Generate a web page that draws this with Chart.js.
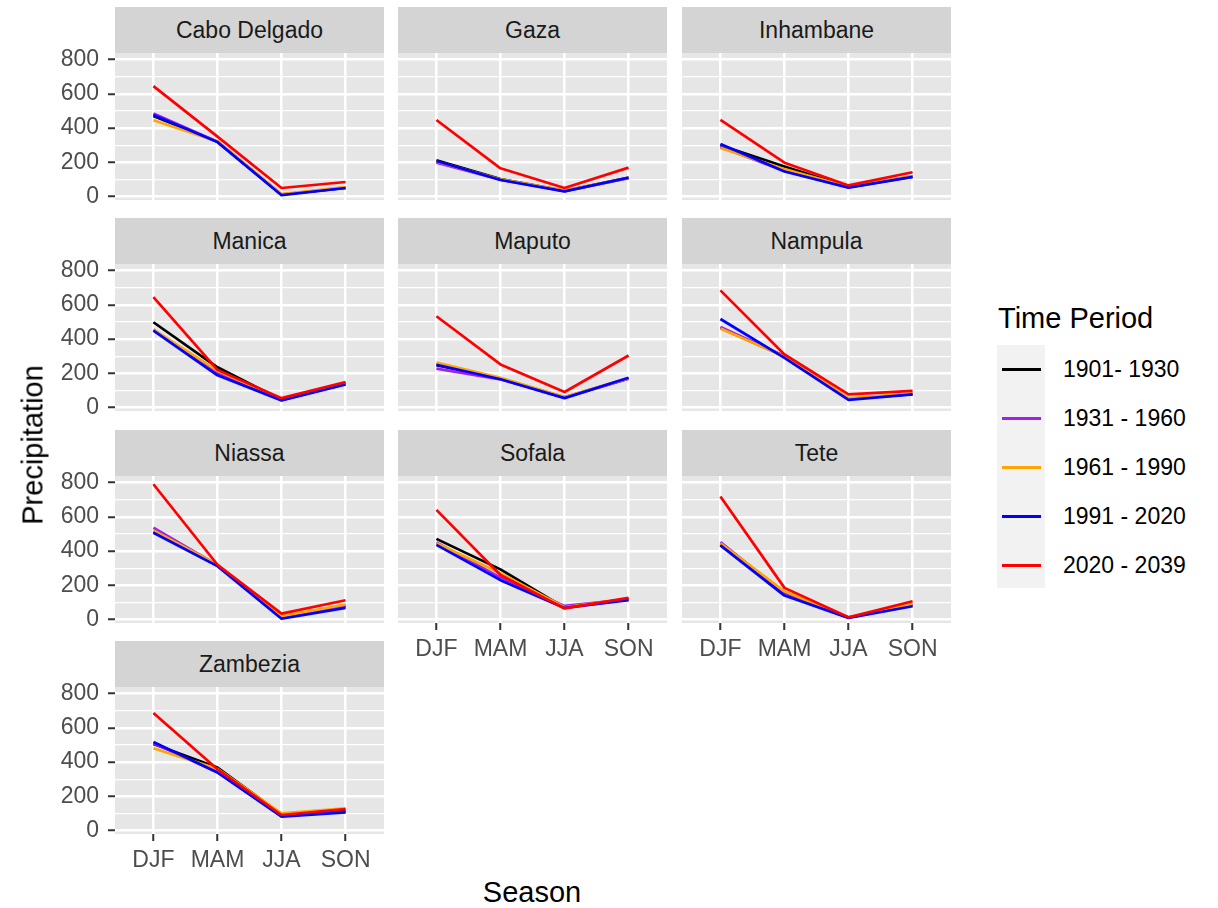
<!DOCTYPE html>
<html>
<head>
<meta charset="utf-8">
<script src="https://cdn.jsdelivr.net/npm/chart.js"></script>
<style>
    body { margin: 0; background: #fff; width: 1218px; height: 908px; position: relative; overflow: hidden;
           font-family: "Liberation Sans", Arial, sans-serif; }
    .strip { position: absolute; background: #D4D4D4; color: #1A1A1A; font-size: 23px; text-align: center; }
    canvas { position: absolute; }
    .title { position: absolute; color: #000; font-size: 29px; white-space: nowrap; }
    .legend-text { position: absolute; color: #000; font-size: 23px; white-space: nowrap; }
</style>
</head>
<body>
<script>
const seasons = ['DJF', 'MAM', 'JJA', 'SON'];
const periods = ['1901- 1930', '1931 - 1960', '1961 - 1990', '1991 - 2020', '2020 - 2039'];
const periodColors = ['#000000', '#A020F0', '#FFA500', '#0000FF', '#FF0000'];
const provinces = ['Cabo Delgado', 'Gaza', 'Inhambane', 'Manica', 'Maputo',
                   'Nampula', 'Niassa', 'Sofala', 'Tete', 'Zambezia'];
const yTicks = [0, 100, 200, 300, 400, 500, 600, 700, 800];

// one row per period, one value per season
const caboDelgado = [[470, 320, 12, 50], [485, 320, 12, 52], [445, 322, 14, 55], [476, 318, 8, 50], [645, 350, 50, 85]];
const gaza        = [[212, 102, 33, 110], [198, 98, 32, 108], [205, 100, 35, 110], [208, 97, 30, 111], [447, 165, 50, 169]];
const inhambane   = [[300, 175, 55, 118], [290, 150, 55, 115], [283, 160, 57, 120], [307, 146, 52, 115], [447, 198, 65, 142]];
const manica      = [[498, 235, 45, 140], [455, 200, 45, 138], [455, 215, 48, 140], [449, 188, 42, 135], [645, 220, 55, 149]];
const maputo      = [[248, 170, 60, 170], [227, 165, 58, 168], [262, 174, 62, 172], [250, 165, 55, 174], [533, 252, 91, 304]];
const nampula     = [[465, 300, 50, 78], [470, 300, 50, 80], [462, 298, 55, 82], [517, 290, 45, 77], [684, 310, 77, 97]];
const niassa      = [[515, 316, 15, 80], [536, 318, 15, 80], [520, 320, 20, 88], [507, 312, 5, 68], [790, 320, 35, 113]];
const sofala      = [[471, 293, 70, 120], [450, 245, 80, 118], [445, 270, 72, 122], [436, 230, 68, 113], [640, 260, 65, 127]];
const tete        = [[440, 150, 12, 85], [453, 150, 12, 85], [445, 165, 12, 90], [433, 140, 10, 78], [718, 185, 13, 107]];
const zambezia    = [[505, 368, 95, 115], [510, 340, 85, 110], [480, 360, 100, 130], [517, 339, 81, 106], [686, 358, 91, 126]];

const provinceValues = [caboDelgado, gaza, inhambane, manica, maputo, nampula, niassa, sofala, tete, zambezia];

const FONT = '"Liberation Sans", Arial, sans-serif';
const colLeft = [115, 398, 682];
const stripTop = [7, 218, 430, 641];
const panelW = 269, panelH = 147, stripH = 46;
const axisW = 70, axisH = 55, padTop = 15, padRight = 10;

const panelBg = {
    id: 'panelBg',
    beforeDraw(chart) {
        const { ctx, chartArea: a } = chart;
        ctx.save();
        ctx.fillStyle = '#E6E6E6';
        ctx.fillRect(a.left, a.top, a.right - a.left, a.bottom - a.top);
        ctx.restore();
    }
};

function addDiv(cls, text, css) {
    const d = document.createElement('div');
    d.className = cls;
    d.textContent = text;
    Object.assign(d.style, css);
    document.body.appendChild(d);
    return d;
}

// fixed axis sizes so every panel lines up, no extra label padding
function fixSize(s, w, h) {
    if (w !== null) s.width = w;
    if (h !== null) s.height = h;
    s.paddingTop = 0;
    s.paddingBottom = 0;
    s.paddingLeft = 0;
    s.paddingRight = 0;
}

provinces.forEach((name, p) => {
    const col = p % 3;
    const row = Math.floor(p / 3);
    const showY = col === 0;
    const showX = row === 3 || (row === 2 && col > 0);

    addDiv('strip', name, {
        left: colLeft[col] + 'px', top: stripTop[row] + 'px',
        width: panelW + 'px', height: stripH + 'px', lineHeight: stripH + 'px'
    });

    const canvas = document.createElement('canvas');
    canvas.width = axisW + panelW + padRight;
    canvas.height = padTop + panelH + axisH;
    canvas.style.left = (colLeft[col] - axisW) + 'px';
    canvas.style.top = (stripTop[row] + stripH - padTop) + 'px';
    document.body.appendChild(canvas);

    new Chart(canvas, {
        type: 'line',
        data: {
            datasets: periods.map((label, i) => ({
                label: label,
                data: provinceValues[p][i].map((v, j) => ({ x: j + 1, y: v })),
                borderColor: periodColors[i],
                borderWidth: 2.7,
                borderJoinStyle: 'round',
                pointRadius: 0,
                tension: 0,
                order: periods.length - 1 - i
            }))
        },
        options: {
            responsive: false,
            animation: false,
            events: [],
            layout: { padding: { top: padTop, right: padRight, left: 0, bottom: 0 } },
            plugins: { legend: { display: false }, tooltip: { enabled: false } },
            scales: {
                x: {
                    type: 'linear',
                    min: 0.4,
                    max: 4.6,
                    afterBuildTicks: s => { s.ticks = seasons.map((_, j) => ({ value: j + 1 })); },
                    afterFit: s => fixSize(s, null, axisH),
                    border: { display: false },
                    grid: { color: '#FFFFFF', lineWidth: 2.5, drawTicks: showX, tickLength: 7,
                            tickColor: '#333333', tickWidth: 2 },
                    ticks: { display: showX, autoSkip: false, maxRotation: 0, padding: 6,
                             color: '#4D4D4D', font: { size: 23, family: FONT },
                             callback: v => seasons[v - 1] }
                },
                y: {
                    min: -20,
                    max: 838,
                    afterBuildTicks: s => { s.ticks = yTicks.map(v => ({ value: v })); },
                    afterFit: s => fixSize(s, axisW, null),
                    border: { display: false },
                    grid: { color: '#FFFFFF',
                            lineWidth: c => (c.tick && c.tick.value % 200 === 0) ? 2.5 : 1.2,
                            drawTicks: showY, tickLength: 7,
                            tickColor: c => (c.tick && c.tick.value % 200 === 0) ? '#333333' : 'rgba(0,0,0,0)',
                            tickWidth: 2 },
                    ticks: { display: showY, autoSkip: false, padding: 9,
                             color: '#4D4D4D', font: { size: 23, family: FONT },
                             callback: v => v % 200 === 0 ? String(v) : '' }
                }
            }
        },
        plugins: [panelBg]
    });
});

// axis titles
addDiv('title', 'Season', { left: '532px', top: '892px', transform: 'translate(-50%, -50%)' });
addDiv('title', 'Precipitation', { left: '33px', top: '445px', transform: 'translate(-50%, -50%) rotate(-90deg)' });

// legend
addDiv('title', 'Time Period', { left: '998px', top: '318px', transform: 'translateY(-50%)' });
addDiv('legend-bg', '', { position: 'absolute', left: '997px', top: '345px', width: '48px', height: '243px', background: '#F2F2F2' });
periods.forEach((label, i) => {
    const cy = 369 + i * 49;
    addDiv('legend-line', '', { position: 'absolute', left: '1002px', top: (cy - 1.5) + 'px', width: '39px', height: '3px', background: periodColors[i] });
    addDiv('legend-text', label, { left: '1063px', top: cy + 'px', transform: 'translateY(-50%)' });
});
</script>
</body>
</html>
